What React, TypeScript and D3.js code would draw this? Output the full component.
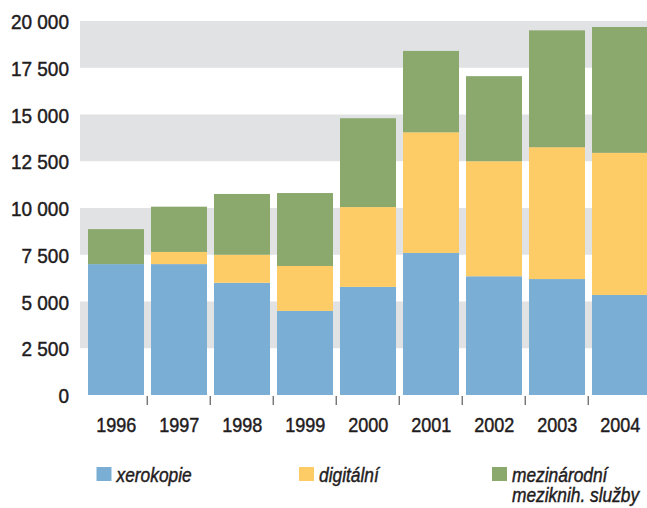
import React from "react";
import * as d3 from "d3";

const years = ["1996", "1997", "1998", "1999", "2000", "2001", "2002", "2003", "2004"];
const xerokopie = [7000, 7000, 6000, 4500, 5780, 7600, 6350, 6200, 5350];
const digitalni = [0, 650, 1500, 2400, 4270, 6450, 6150, 7050, 7600];
const mezinarodni = [1870, 2420, 3250, 3900, 4750, 4350, 4550, 6250, 6730];
const yTicks = [0, 2500, 5000, 7500, 10000, 12500, 15000, 17500, 20000];
const seriesNames = ["xerokopie", "digitální", "mezinárodní"];
const legendLabels = [["xerokopie"], ["digitální"], ["mezinárodní", "meziknih. služby"]];
const colors = ["#7aaed5", "#fdcc66", "#8ba86d"];

const W = 647;
const H = 508;
const FONT = "'Liberation Sans', Arial, sans-serif";
const INK = "#1f1c1d";

const fmt = d3.formatLocale({ decimal: ",", thousands: " ", grouping: [3], currency: ["", " Kč"] }).format(",");

function Narrow(props: any) {
  const { x, y, anchor, size, italic, scale, children } = props;
  return (
    <text
      transform={`translate(${x},${y}) scale(${scale},1)`}
      textAnchor={anchor || "start"}
      fontFamily={FONT}
      fontSize={size}
      fontStyle={italic ? "italic" : "normal"}
      fill={INK}
      stroke={INK}
      strokeWidth={0.45}
    >
      {children}
    </text>
  );
}

export default function App() {
  const x = d3.scaleBand<string>().domain(years).range([84.7, 651.7]).paddingInner(0).paddingOuter(0);
  const y = d3.scaleLinear().domain([0, 20000]).range([395, 21]);

  const table = years.map((yr, i) => ({
    year: yr,
    xerokopie: xerokopie[i],
    "digitální": digitalni[i],
    "mezinárodní": mezinarodni[i],
  }));
  const stacked = d3.stack<any>().keys(seriesNames)(table);

  const bands = [[2500, 5000], [7500, 10000], [12500, 15000], [17500, 20000]];
  const bw = x.bandwidth();
  const legendX = [96.5, 299, 492];

  return (
    <svg width={W} height={H} style={{ position: "absolute", left: 0, top: 0, background: "#fff" }}>
      {bands.map(([a, b], i) => (
        <rect key={i} x={80} y={y(b)} width={W - 80} height={y(a) - y(b)} fill="#e1e2e4" />
      ))}
      {stacked.map((s, si) => (
        <g key={si} fill={colors[si]}>
          {s.map((d: any, i: number) => (
            <rect
              key={i}
              x={(x(years[i]) as number) + 3.3}
              y={y(d[1])}
              width={bw - 7}
              height={Math.max(0, y(d[0]) - y(d[1]))}
            />
          ))}
        </g>
      ))}
      {yTicks.map((t) => (
        <Narrow key={t} x={69} y={y(t) + 8.2} anchor="end" size={20} scale={0.95}>
          {fmt(t)}
        </Narrow>
      ))}
      {years.slice(1).map((yr) => (
        <line
          key={yr}
          x1={(x(yr) as number) - 0.5}
          x2={(x(yr) as number) - 0.5}
          y1={396}
          y2={405}
          stroke="#3a3a3a"
          strokeWidth={1}
        />
      ))}
      {years.map((yr) => (
        <Narrow key={yr} x={(x(yr) as number) + bw / 2} y={432.3} anchor="middle" size={20.5} scale={0.88}>
          {yr}
        </Narrow>
      ))}
      {legendLabels.map((lines, i) => (
        <g key={i}>
          <rect x={legendX[i]} y={467} width={15} height={14} fill={colors[i]} />
          {lines.map((l, j) => (
            <Narrow key={j} x={legendX[i] + 20} y={482 + j * 20} size={19.5} scale={0.89} italic>
              {l}
            </Narrow>
          ))}
        </g>
      ))}
    </svg>
  );
}
